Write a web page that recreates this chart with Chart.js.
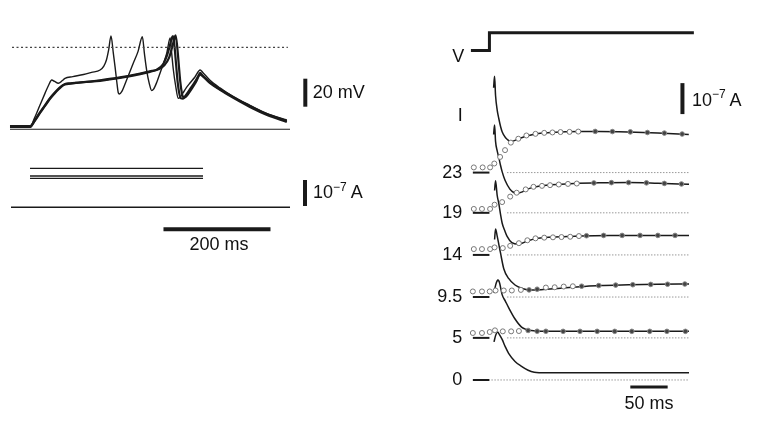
<!DOCTYPE html>
<html>
<head>
<meta charset="utf-8">
<script src="https://cdn.jsdelivr.net/npm/chart.js@4"></script>
<style>
  html, body { margin: 0; padding: 0; background: #fff; }
  #wrap { position: relative; width: 767px; height: 425px; overflow: hidden; }
  #left { position: absolute; left: 0; top: 0; }
  #right { position: absolute; left: 390px; top: 0; }
</style>
</head>
<body>
<div id="wrap">
  <canvas id="left" width="390" height="425"></canvas>
  <canvas id="right" width="377" height="425"></canvas>
</div>
<script>
// ---- left panel: membrane potential (ms, mV) and injected current (ms, nA) ----
const traceA = [[-37.4,0],[0,0],[8,6],[18.7,15.7],[28,24],[35,30],[40.6,33.6],[46,32.5],[53,31.2],[60,33],[65.4,34.8],[80,36],[100,37.5],[115,39],[131,40.7],[138,43.5],[143,48],[147,55],[151.4,65],[155.8,52.6],[159,43],[162,33],[165,24.5],[167,23.6],[171.4,25.2],[180,33],[193,45.5],[202,54],[210,64.5],[214,52],[218,40.7],[223,31],[227.5,26],[231,27],[237,32],[243,38.4],[249,45],[255.5,52.6],[262,63.6],[265,52],[268,40.7],[272,30],[277.2,20.5],[280,21],[286,24.3],[292,28],[299,31.4],[308,35.5],[318,40.7],[323,39],[336,33.6],[355,27.9],[380,21.6],[411,15.5],[442,9.8],[480,5]];
const traceB = [[-37.4,0],[0,0],[10,5.5],[18.7,10.5],[28,15.5],[37,20.5],[46,24.5],[55,28],[60,29.6],[65.4,30.7],[75,31.2],[93.5,31.8],[131,33.4],[168,35.4],[206,38.2],[224,39.8],[237,41],[249,45],[256,51],[261,57.5],[265,63.6],[267.3,65],[270,58],[273,45],[276,32],[279,24],[282,20.5],[286,20.3],[290,22],[300,27.5],[308,32],[314,36],[318,38.6],[323,36.6],[336,32],[355,27],[380,21.4],[411,15],[443,9.3],[480,4.3]];
const traceC = [[-37.4,0.6],[0,0.6],[10,5],[18.7,10],[28,15],[37,20],[46,24],[55,27.5],[60,29.2],[65.4,30.3],[75,30.9],[100,32],[131,33],[168,35],[206,37.8],[224,39.4],[240,41.2],[252,44.5],[260,49.5],[266,57.5],[270,63.5],[272,65.5],[275,58],[278,45],[281,32],[284,24],[287,21],[291,21.5],[300,26],[310,32],[318,37.3],[323,36.2],[336,31.5],[355,26.5],[380,20.8],[411,14.3],[443,8.6],[480,3.6]];
const zeroLine = [[-37.4,-1.6],[486,-1.6]];
const thresholdLine = [[-33.6,56.9],[482,56.9]];
const currentSteps = [150, 120.4, 111.5];   // nA
const stepTimes = [0, 323.4];
const currentBase = [[-35.5,0],[486,0]];

// ---- right panel: voltage step and current traces (ms, nA, offset per row) ----
const rowLabels = ['23', '19', '14', '9.5', '5', '0'];
const rowOffsets = [670, 540, 404, 268, 136, 0];
const vStep = [[-24.8,0],[0,0],[0,1],[273.8,1]];
const currentTraces = [
  [[5.6,274],[6.9,311],[8.2,249],[10.4,202],[12.6,174],[15,148],[17,132],[20.9,115],[24,107],[27.8,101],[32.6,102.5],[39,109],[49.5,118],[61.3,125],[73,128],[95,131],[121,132.5],[147,132.5],[186,131],[225.5,128],[267,123]],
  [[5.6,253],[6.9,284],[8.2,231],[10.4,200],[12.6,178.5],[15,152],[17,133],[20.9,105],[27.4,76.7],[32.6,65.6],[36.5,63],[43,67],[48.2,73.5],[59.9,83],[70.4,87.7],[82,90.9],[108,94],[147,97],[186.4,97.8],[225.5,95.6],[267.3,92.4]],
  [[6.9,208],[8.2,240],[10.4,192],[12.6,166],[15,129],[17,103],[20.9,76],[23.5,61],[30,40],[38.7,34.7],[50.8,45],[61.3,52.7],[72.6,55.8],[95.2,58.4],[121.3,61.5],[160.4,63],[212.5,63],[267.3,63]],
  [[6.9,186],[8.2,220],[10.4,196.5],[14.7,144],[19.2,91.5],[25.7,60],[34.3,38.8],[43,28.4],[53.8,23],[69.1,23.7],[95.2,28.4],[121.3,33],[147.3,37],[186.4,39.4],[225.5,41],[267.3,42]],
  [[6.1,145],[8.5,172],[10.3,184],[11.3,187],[12.6,184],[13.7,176.7],[17,139.7],[21.3,119],[25.7,97.8],[34.3,60.9],[43,34.7],[49.5,26.8],[56,23.7],[69.1,21.5],[147.3,21.1],[267.3,21.1]],
  [[6.1,123],[8.5,145],[11.1,154.6],[13,148],[17,131],[21.3,107],[25.7,86],[34.3,60],[43,44],[51.8,31.5],[60,25.2],[75.6,23],[267.3,23]]
];
const openCircles = [
  [[-20.9,16.7],[-9.1,16.7],[0.9,16.7],[6.5,29.3],[14.3,50.5],[20.9,72.6],[28.7,96.8],[38.7,109.4],[49.5,119.9],[61.7,125.2],[73.4,128.4],[84.4,129.7],[95.2,130.9],[107.3,131.5],[119,132.5]],
  [[-20.9,12.6],[-10,12.6],[0.9,12.6],[6.9,26.2],[17,34.7],[27.8,52.4],[36.5,65],[48.6,75.7],[59,84],[70.4,87.1],[81.2,89.3],[92.9,91.5],[105.2,93.4],[117,94.6]],
  [[-20.9,18.9],[-10,18.9],[0.9,18.9],[6.9,24.3],[17.9,22.1],[27.8,29.3],[39.5,37.9],[50.8,47.3],[61.7,53.6],[73.4,55.8],[85.1,56.8],[96.5,57.7],[108.2,58.7],[119.9,60.9]],
  [[-22.2,18],[-10,18],[0.4,18],[8.2,21.1],[19.2,21.1],[30,21.1],[42.1,23],[75.6,30.6],[87.4,31.5],[99.5,33.8],[111.7,34.7]],
  [[-22.2,15.8],[-10,15.8],[0.4,18.9],[7.4,24.3],[17.9,21.1],[29.1,21.1],[39.5,22.1]],
  []
];
const filledDots = [
  [[141.7,133],[164.7,132.5],[188.7,131.5],[211.6,129.5],[234.3,127.5],[258.1,124.5]],
  [[139.9,96.5],[163.4,97.5],[186.4,97.8],[210.3,96.8],[234.3,95],[257.2,93.2]],
  [[130,62],[152.9,63],[177.7,63],[201.7,63],[225.6,63],[248.6,63]],
  [[53.1,23],[63.9,25.2],[123.5,35],[146.4,37],[169.1,38.5],[192,39.8],[216,40.7],[238.6,41.3],[261.7,42]],
  [[51.8,24],[63.9,21.5],[75.6,21.3],[98.7,21.1],[121.3,21.1],[144.3,21.1],[167.8,21.1],[190.7,21.1],[214.7,21.1],[237.7,21.1],[262.5,21.1]],
  []
];

const INK = '#1a1a1a';
const FONT = '"Liberation Sans", Arial, sans-serif';

function pts(arr, dy) {
  return arr.map(p => ({ x: p[0], y: p[1] + (dy || 0) }));
}

function line(arr, opts) {
  return Object.assign({
    data: pts(arr),
    showLine: true,
    borderColor: INK,
    borderWidth: 1.5,
    pointRadius: 0,
    fill: false,
    tension: 0,
    borderCapStyle: 'butt',
    order: 2
  }, opts);
}

// draws text at data coordinates; parts = [text, size, rise, gapAfter]
function textPlugin(items) {
  return {
    id: 'texts',
    afterDatasetsDraw(chart) {
      const ctx = chart.ctx;
      ctx.save();
      ctx.fillStyle = '#111';
      ctx.textBaseline = 'middle';
      items.forEach(it => {
        let x = chart.scales.x.getPixelForValue(it.x);
        const y = chart.scales[it.axis || 'y'].getPixelForValue(it.y);
        let total = 0;
        it.parts.forEach(p => {
          ctx.font = p[1] + 'px ' + FONT;
          total += ctx.measureText(p[0]).width + (p[3] || 0);
        });
        if (it.align === 'center') x -= total / 2;
        if (it.align === 'right') x -= total;
        it.parts.forEach(p => {
          ctx.font = p[1] + 'px ' + FONT;
          ctx.textAlign = 'left';
          ctx.fillText(p[0], x, y - (p[2] || 0));
          x += ctx.measureText(p[0]).width + (p[3] || 0);
        });
      });
      ctx.restore();
    }
  };
}

const hiddenScale = (min, max) => ({ type: 'linear', display: false, min: min, max: max });

function baseOptions(scales) {
  return {
    responsive: false,
    animation: false,
    devicePixelRatio: 1,
    layout: { padding: 0 },
    plugins: { legend: { display: false }, tooltip: { enabled: false } },
    scales: scales
  };
}

// ---------- left chart ----------
const leftSets = [
  line(thresholdLine, { borderColor: '#444', borderWidth: 1.3, borderDash: [2, 2.5] }),
  line(zeroLine, { borderWidth: 1.2 }),
  line(traceC, { borderWidth: 2.2, cubicInterpolationMode: 'monotone' }),
  line(traceB, { borderWidth: 2.2, cubicInterpolationMode: 'monotone' }),
  line(traceA, { borderWidth: 1.4, cubicInterpolationMode: 'monotone' }),
  line(currentBase, { yAxisID: 'yI', borderWidth: 1.5 }),
  line([[514.6, 14.5], [514.6, 34.5]], { borderWidth: 4 }),
  line([[514, 5], [514, 105]], { yAxisID: 'yI', borderWidth: 4 }),
  line([[249.5, -84.2], [449.5, -84.2]], { yAxisID: 'yI', borderWidth: 4 })
];
currentSteps.forEach(v => {
  leftSets.push(line([[stepTimes[0], v], [stepTimes[1], v]], { yAxisID: 'yI', borderWidth: 1.3 }));
});

new Chart(document.getElementById('left'), {
  type: 'scatter',
  data: { datasets: leftSets },
  options: baseOptions({
    x: hiddenScale(-56.07, 672.9),
    y: hiddenScale(-212.86, 90.71),
    yI: hiddenScale(-837.3, 797.3)
  }),
  plugins: [textPlugin([
    { x: 528.4, y: 24.1, parts: [['20 mV', 18]] },
    { x: 529, y: 53.8, axis: 'yI', parts: [['10', 18], ['\u22127', 12, 6, 4], ['A', 18]] },
    { x: 353.3, y: -145, axis: 'yI', align: 'center', parts: [['200 ms', 18]] }
  ])]
});

// ---------- right chart ----------
const rightSets = [];
rowOffsets.forEach((off, i) => {
  // open model circles and filled dots on top
  rightSets.push({
    data: pts(openCircles[i], off),
    pointRadius: 2.5,
    pointBackgroundColor: '#fff',
    pointBorderColor: '#777',
    pointBorderWidth: 1,
    order: 0
  });
  rightSets.push({
    data: pts(filledDots[i], off),
    pointRadius: 2.3,
    pointBackgroundColor: '#444',
    pointBorderColor: '#888',
    pointBorderWidth: 1,
    order: 0
  });
  rightSets.push(Object.assign(line(currentTraces[i], { borderWidth: 1.5, cubicInterpolationMode: 'monotone' }), { data: pts(currentTraces[i], off) }));
  rightSets.push(Object.assign(line([[-22.2, 0], [0, 0]], { borderWidth: 2 }), { data: pts([[-22.2, 0], [0, 0]], off) }));
  const dotStart = i === rowOffsets.length - 1 ? 2.6 : 23.5;
  rightSets.push(Object.assign(line([[dotStart, 0], [267.3, 0]], { borderColor: '#999', borderWidth: 1, borderDash: [1.5, 1.5], order: 3 }), { data: pts([[dotStart, 0], [267.3, 0]], off) }));
});
rightSets.push(line(vStep, { yAxisID: 'yV', borderWidth: 3, borderJoinStyle: 'miter' }));
rightSets.push(line([[258.5, 859], [258.5, 959]], { borderWidth: 4 }));
rightSets.push(line([[188.7, -23], [238.7, -23]], { borderWidth: 3 }));

const rightTexts = [
  { x: -41.7, y: 1044, align: 'center', parts: [['V', 18]] },
  { x: -39.1, y: 851.7, align: 'center', parts: [['I', 18]] },
  { x: 271.2, y: 901, parts: [['10', 18], ['\u22127', 12, 6, 4], ['A', 18]] },
  { x: 213.8, y: -76.7, align: 'center', parts: [['50 ms', 18]] }
];
rowLabels.forEach((lab, i) => {
  rightTexts.push({ x: -36.5, y: rowOffsets[i], align: 'right', parts: [[lab, 18]] });
});

new Chart(document.getElementById('right'), {
  type: 'scatter',
  data: { datasets: rightSets },
  options: baseOptions({
    x: hiddenScale(-126.47, 365.06),
    y: hiddenScale(-129.3, 1211.4),
    yV: hiddenScale(-20.56, 2.538)
  }),
  plugins: [textPlugin(rightTexts)]
});
</script>
</body>
</html>
